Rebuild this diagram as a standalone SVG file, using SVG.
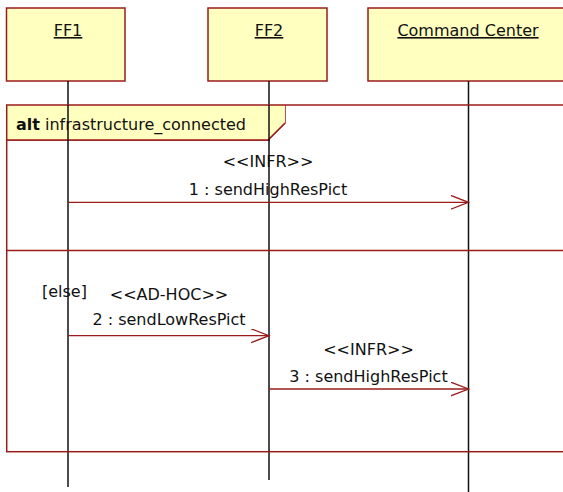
<svg xmlns="http://www.w3.org/2000/svg" width="563" height="492" viewBox="0 0 563 492">
<style>
.box{fill:#FFFFC0;stroke:#9A1B1B;stroke-width:1.5}
.life{stroke:#111;stroke-width:1.5;fill:none}
.frame{fill:none;stroke:#9A1B1B;stroke-width:1.5}
.msg{stroke:#9A1B1B;stroke-width:1.3;fill:none}
text{font-family:"DejaVu Sans",Verdana,sans-serif;font-size:16px;fill:#111}
.name{text-anchor:middle;text-decoration:underline}
.mid{text-anchor:middle}
</style>
<defs>
<marker id="open" markerWidth="20" markerHeight="16" refX="18" refY="7" orient="auto" markerUnits="userSpaceOnUse">
<path d="M0,0 L18,7 L0,14" fill="none" stroke="#9A1B1B" stroke-width="1.3"/>
</marker>
</defs>
<g id="FF1">
<rect class="box" x="6.5" y="8" width="118.5" height="73"/>
<text class="name" x="68" y="36">FF1</text>
<line class="life" x1="68" y1="81" x2="68" y2="487"/>
</g>
<g id="FF2">
<rect class="box" x="208" y="8" width="119" height="73"/>
<text class="name" x="269" y="36">FF2</text>
<line class="life" x1="269" y1="81" x2="269" y2="480"/>
</g>
<g id="CommandCenter">
<rect class="box" x="368" y="8" width="200" height="73"/>
<text class="name" x="468" y="36">Command Center</text>
<line class="life" x1="468.5" y1="81" x2="468.5" y2="492"/>
</g>
<g id="altFrame">
<path d="M6.7,140 L268,140 L285,123 L285,105" fill="#FFFFC0" stroke="#9A1B1B" stroke-width="1.5"/>
<path d="M6.7,105 L285,105 L285,123 L268,140 L6.7,140 Z" fill="#FFFFC0" stroke="none"/>
<path d="M285,123 L268,140 L6.7,140" class="frame"/>
<rect class="frame" x="6.7" y="105" width="570" height="346.7"/>
<line class="frame" x1="6.7" y1="250.5" x2="563" y2="250.5"/>
<text x="16" y="130"><tspan font-weight="bold">alt</tspan> infrastructure_connected</text>
<text x="42" y="297">[else]</text>
</g>
<line class="life" x1="68" y1="105" x2="68" y2="141"/>
<line class="life" x1="269" y1="105" x2="269" y2="141"/>
<g id="connectors">
<line class="msg" x1="68" y1="202.3" x2="468.5" y2="202.3" marker-end="url(#open)"/>
<text class="mid" x="268" y="167">&lt;&lt;INFR&gt;&gt;</text>
<text class="mid" x="268" y="195">1 : sendHighResPict</text>
<line class="msg" x1="68" y1="335.7" x2="269" y2="335.7" marker-end="url(#open)"/>
<text class="mid" x="169" y="300">&lt;&lt;AD-HOC&gt;&gt;</text>
<text class="mid" x="169" y="325">2 : sendLowResPict</text>
<line class="msg" x1="269" y1="389" x2="468.5" y2="389" marker-end="url(#open)"/>
<text class="mid" x="368.5" y="355">&lt;&lt;INFR&gt;&gt;</text>
<text class="mid" x="368.5" y="382">3 : sendHighResPict</text>
</g>
</svg>
